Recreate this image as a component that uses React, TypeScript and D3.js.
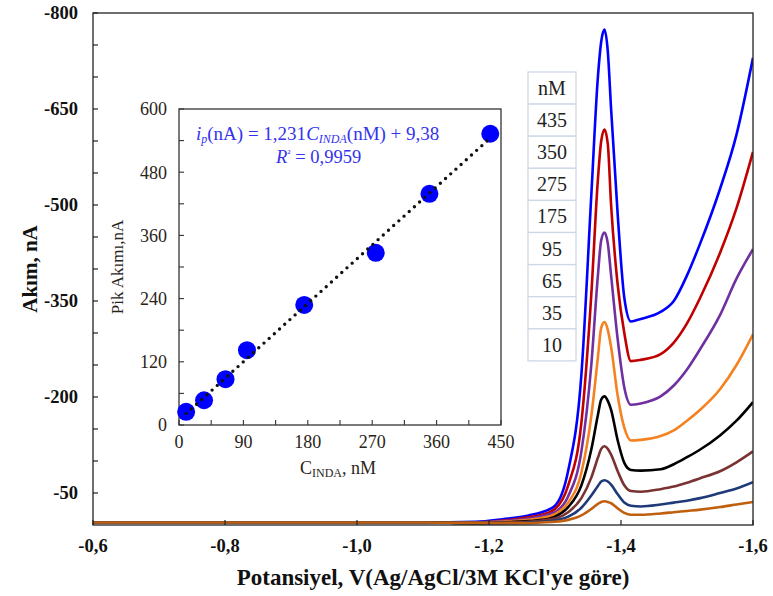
import React from "react";
import * as d3 from "d3";

// ---------- DATA ----------
const potentials = [-0.6, -1.1, -1.18, -1.22, -1.26, -1.28, -1.3, -1.32, -1.34, -1.355, -1.365, -1.37, -1.375, -1.38, -1.385, -1.395, -1.405, -1.415, -1.43, -1.46, -1.48, -1.5, -1.52, -1.55, -1.575, -1.6];

const c435 = [-4, -4, -5, -9, -15, -20, -30, -85, -235, -515, -700, -755, -774, -740, -650, -485, -355, -318, -322, -333, -350, -390, -440, -525, -610, -730];
const c350 = [-4, -4, -4, -7, -12, -16, -25, -62, -160, -360, -540, -600, -618, -595, -500, -375, -300, -256, -258, -267, -285, -315, -355, -425, -495, -583];
const c275 = [-4, -4, -4, -6, -10, -14, -20, -45, -115, -250, -390, -445, -457, -440, -390, -290, -215, -188, -190, -201, -218, -243, -275, -328, -385, -431];
const c175 = [-4, -4, -4, -5, -8, -11, -17, -35, -82, -170, -262, -308, -317, -305, -278, -202, -152, -132, -133, -139, -148, -163, -180, -212, -250, -298];
const c95 = [-4, -4, -3, -4, -6, -8, -13, -28, -62, -118, -172, -196, -201, -194, -180, -132, -97, -86, -85, -87, -95, -106, -118, -140, -163, -192];
const c65 = [-4, -4, -3, -4, -5, -7, -10, -20, -42, -74, -105, -119, -123, -119, -110, -84, -62, -53, -52, -56, -60, -66, -73, -84, -98, -115];
const c35 = [-4, -4, -3, -3, -4, -5, -7, -13, -27, -46, -61, -68, -70, -68, -63, -48, -35, -30, -29, -32, -35, -38, -42, -50, -57, -67];
const c10 = [-4, -4, -3, -3, -3, -4, -5, -8, -15, -25, -33, -36, -37, -36, -34, -26, -19, -16, -16, -18, -20, -22, -24, -28, -32, -36];

const concentrations = [435, 350, 275, 175, 95, 65, 35, 10];
const seriesValues = [c435, c350, c275, c175, c95, c65, c35, c10];
const seriesColors = ["#0000ff", "#c00000", "#7030a0", "#f58220", "#000000", "#7a3333", "#1f3a78", "#c0600f"];
const legendHeader = "nM";

const xTicks = [-0.6, -0.8, -1.0, -1.2, -1.4, -1.6];
const yLabelTicks = [-800, -650, -500, -350, -200, -50];
const yMinorTicks = [-800, -750, -700, -650, -600, -550, -500, -450, -400, -350, -300, -250, -200, -150, -100, -50];

// inset (calibration)
const calConc = [10, 35, 65, 95, 175, 275, 350, 435];
const calPeak = [25, 47, 87, 142, 228, 327, 439, 553];
const slope = 1.231;
const intercept = 9.38;
const insetXTicks = [0, 90, 180, 270, 360, 450];
const insetXMinor = [0, 45, 90, 135, 180, 225, 270, 315, 360, 405, 450];
const insetYTicks = [0, 120, 240, 360, 480, 600];
const insetYMinor = [0, 60, 120, 180, 240, 300, 360, 420, 480, 540, 600];

// ---------- LAYOUT ----------
const W = 773, H = 596;
const M = { l: 93, r: 753, t: 13, b: 525 };
const I = { l: 179, r: 501, t: 109, b: 425 };
const serif = "Liberation Serif, Times New Roman, DejaVu Serif, serif";

const fmtV = (v: number) => (v < 0 ? "-" : "") + Math.abs(v).toFixed(1).replace(".", ",");

export default function App() {
  const x = d3.scaleLinear().domain([-0.6, -1.6]).range([M.l, M.r]);
  const y = d3.scaleLinear().domain([0, -800]).range([M.b, M.t]);
  const line = d3
    .line<[number, number]>()
    .x((d) => x(d[0]))
    .y((d) => y(d[1]))
    .curve(d3.curveMonotoneX);

  const ix = d3.scaleLinear().domain([0, 450]).range([I.l, I.r]);
  const iy = d3.scaleLinear().domain([0, 600]).range([I.b, I.t]);

  const rowH = 32.1;
  const legX = 528, legY = 72, legW = 48;
  const ts = { fontFamily: serif };

  return (
    <svg width={W} height={H} style={{ position: "absolute", left: 0, top: 0, background: "#fff", fontFamily: serif }}>
      <defs>
        <clipPath id="plotclip">
          <rect x={M.l} y={M.t} width={M.r - M.l} height={M.b - M.t} />
        </clipPath>
        <filter id="blur" x="-50%" y="-50%" width="200%" height="200%">
          <feGaussianBlur stdDeviation="0.6" />
        </filter>
      </defs>
      <rect x={0} y={0} width={W} height={H} fill="#fff" />

      {/* main curves */}
      <g clipPath="url(#plotclip)">
        {seriesValues.map((vals, i) => (
          <path
            key={i}
            d={line(potentials.map((p, k) => [p, vals[k]] as [number, number])) || ""}
            fill="none"
            stroke={seriesColors[i]}
            strokeWidth={2.6}
            strokeLinejoin="round"
          />
        ))}
      </g>

      {/* main frame */}
      <rect x={M.l} y={M.t} width={M.r - M.l} height={M.b - M.t} fill="none" stroke="#222" strokeWidth={1.3} />
      {yMinorTicks.map((t) => (
        <line key={"ym" + t} x1={M.l} x2={M.l + 5} y1={y(t)} y2={y(t)} stroke="#222" strokeWidth={1.2} />
      ))}
      {xTicks.map((t) => (
        <line key={"xm" + t} x1={x(t)} x2={x(t)} y1={M.b} y2={M.b - 5} stroke="#222" strokeWidth={1.2} />
      ))}
      {yLabelTicks.map((t) => (
        <text key={"yl" + t} style={ts} x={78} y={y(t)} dy="0.35em" textAnchor="end" fontSize={18.5} fontWeight="bold" fill="#111">
          {t}
        </text>
      ))}
      {xTicks.map((t) => (
        <text key={"xl" + t} style={ts} x={x(t)} y={552} textAnchor="middle" fontSize={18.5} fontWeight="bold" fill="#111">
          {fmtV(t)}
        </text>
      ))}
      <text style={ts} x={433} y={585} textAnchor="middle" fontSize={23} fontWeight="bold" fill="#111">
        Potansiyel, V(Ag/AgCl/3M KCl'ye göre)
      </text>
      <text style={ts} transform={`translate(37,${(M.t + M.b) / 2}) rotate(-90)`} textAnchor="middle" fontSize={21} fontWeight="bold" fill="#111">
        Akım, nA
      </text>

      {/* legend table */}
      {[legendHeader, ...concentrations.map(String)].map((s, k) => (
        <g key={"lg" + k}>
          <rect x={legX} y={legY + k * rowH} width={legW} height={rowH} fill="#fff" stroke="#cfd7e6" strokeWidth={1.3} />
          <text style={ts} x={legX + legW / 2} y={legY + k * rowH + rowH / 2} dy="0.35em" textAnchor="middle" fontSize={20} fill="#222">
            {s}
          </text>
        </g>
      ))}

      {/* inset */}
      <rect x={I.l} y={I.t} width={I.r - I.l} height={I.b - I.t} fill="#fff" stroke="#333" strokeWidth={1.3} />
      {insetYMinor.map((t) => (
        <line key={"iym" + t} x1={I.l} x2={I.l + 5} y1={iy(t)} y2={iy(t)} stroke="#333" strokeWidth={1.1} />
      ))}
      {insetXMinor.map((t) => (
        <line key={"ixm" + t} x1={ix(t)} x2={ix(t)} y1={I.b} y2={I.b - 5} stroke="#333" strokeWidth={1.1} />
      ))}
      {insetYTicks.map((t) => (
        <text key={"iyl" + t} style={ts} x={167} y={iy(t)} dy="0.35em" textAnchor="end" fontSize={18} fill="#2a2418">
          {t}
        </text>
      ))}
      {insetXTicks.map((t) => (
        <text key={"ixl" + t} style={ts} x={ix(t)} y={448} textAnchor="middle" fontSize={18} fill="#2a2418">
          {t}
        </text>
      ))}
      <text style={ts} transform={`translate(123,${(I.t + I.b) / 2}) rotate(-90)`} textAnchor="middle" fontSize={17} fill="#2a2418">
        Pik Akımı,nA
      </text>
      <text style={ts} x={338} y={474} textAnchor="middle" fontSize={18} fill="#2a2418">
        C<tspan fontSize={12} dy={3}>INDA</tspan>
        <tspan dy={-3}>, nM</tspan>
      </text>

      {/* calibration points */}
      {calConc.map((c, k) => (
        <circle key={"pt" + k} cx={ix(c)} cy={iy(calPeak[k])} r={9} fill="#0000ff" filter="url(#blur)" />
      ))}
      <line
        x1={ix(calConc[0])}
        y1={iy(slope * calConc[0] + intercept)}
        x2={ix(calConc[calConc.length - 1])}
        y2={iy(slope * calConc[calConc.length - 1] + intercept)}
        stroke="#111"
        strokeWidth={3.4}
        strokeDasharray="0 7"
        strokeLinecap="round"
      />

      {/* equation */}
      <text style={ts} x={196} y={140} fontSize={19} fill="#3333ee">
        <tspan fontStyle="italic">i</tspan>
        <tspan fontStyle="italic" fontSize={12} dy={3}>p</tspan>
        <tspan dy={-3}>(nA) = 1,231</tspan>
        <tspan fontStyle="italic">C</tspan>
        <tspan fontStyle="italic" fontSize={12} dy={3}>INDA</tspan>
        <tspan dy={-3}>(nM) + 9,38</tspan>
      </text>
      <text style={ts} x={276} y={163} fontSize={18.5} fill="#3333ee">
        <tspan fontStyle="italic">R</tspan>
        <tspan fontSize={11} dy={-6}>²</tspan>
        <tspan dy={6}> = 0,9959</tspan>
      </text>
    </svg>
  );
}
